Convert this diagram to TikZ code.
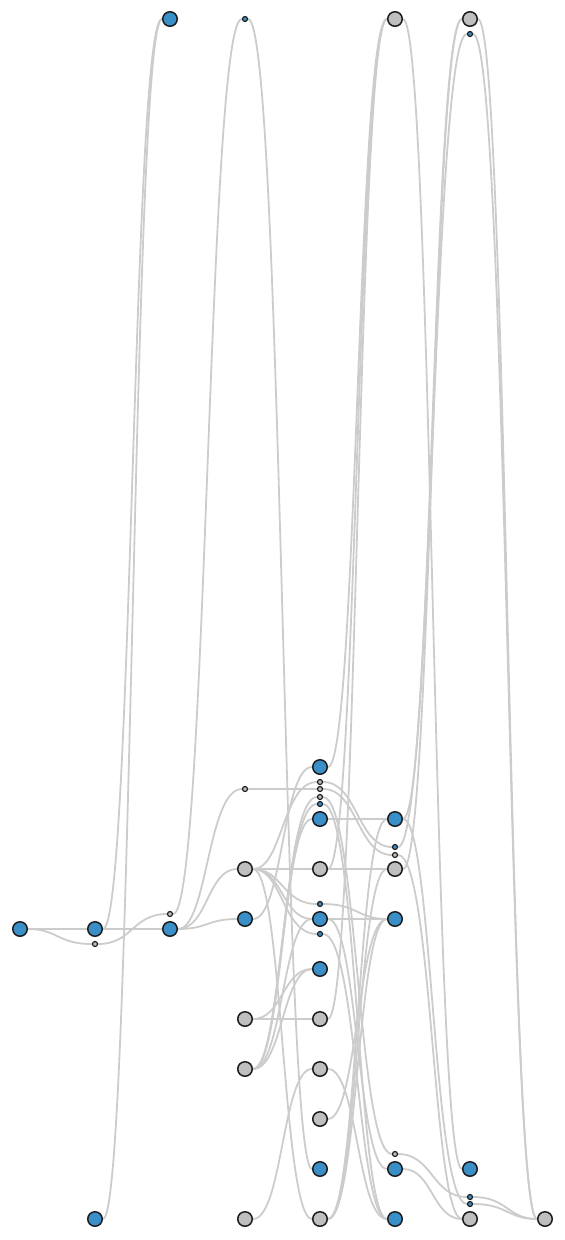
\documentclass[tikz,border=0pt]{standalone}
\usetikzlibrary{backgrounds}
\definecolor{nodeblue}{RGB}{58,143,201}
\definecolor{nodegray}{RGB}{191,191,191}
\definecolor{nodeline}{RGB}{30,30,30}
\definecolor{linkgray}{RGB}{204,204,204}
\tikzstyle{bigblue} = [
    circle, minimum size=14.5pt, inner sep=0pt,
    draw=nodeline, line width=1.5pt, fill=nodeblue
]
\tikzstyle{biggray} = [
    circle, minimum size=14.5pt, inner sep=0pt,
    draw=nodeline, line width=1.5pt, fill=nodegray
]
\tikzstyle{smallblue} = [
    circle, minimum size=5pt, inner sep=0pt,
    draw=nodeline, line width=1.2pt, fill=nodeblue
]
\tikzstyle{smallgray} = [
    circle, minimum size=5pt, inner sep=0pt,
    draw=nodeline, line width=1.2pt, fill=nodegray
]
\tikzstyle{link} = [
    draw=linkgray, line width=1.8pt,
    to path={.. controls +(37.5pt,0) and +(-37.5pt,0) .. (\tikztotarget)}
]

\begin{document}
\begin{tikzpicture}[node distance=50pt]
        \useasboundingbox (0,0) rectangle (565pt,-1240pt);
        % Draw nodes
        \node (n1) [bigblue] at (20pt,-929pt) {};

        \node (n2a) [bigblue, right of=n1, xshift=25pt] {};
        \node (n2d) [smallgray, below of=n2a, yshift=35pt] {};
        \node (n2b) [bigblue, below of=n2a, yshift=-240pt] {};

        \node (n3a) [bigblue, right of=n2a, xshift=25pt] {};
        \node (n3d) [smallgray, above of=n3a, yshift=-35pt] {};
        \node (n3t) [bigblue, above of=n3a, yshift=860pt] {};

        \node (n4b) [bigblue, right of=n3a, xshift=25pt, yshift=10pt] {};
        \node (n4a) [biggray, above of=n4b] {};
        \node (n4d2) [smallgray, above of=n4a, yshift=30pt] {};
        \node (n4d1) [smallblue, above of=n4a, yshift=800pt] {};
        \node (n4c) [biggray, below of=n4b, yshift=-50pt] {};
        \node (n4e) [biggray, below of=n4c] {};
        \node (n4f) [biggray, below of=n4e, yshift=-100pt] {};

        \node (n5e) [bigblue, right of=n4b, xshift=25pt] {};
        \node (n5c) [biggray, above of=n5e] {};
        \node (n5b) [bigblue, above of=n5c] {};
        \node (n5d4) [smallblue, above of=n5b, yshift=-35pt] {};
        \node (n5d3) [smallgray, above of=n5b, yshift=-28pt] {};
        \node (n5d2) [smallgray, above of=n5b, yshift=-20pt] {};
        \node (n5d1) [smallgray, above of=n5b, yshift=-13pt] {};
        \node (n5a) [bigblue, above of=n5b, yshift=2pt] {};
        \node (n5d5) [smallblue, above of=n5e, yshift=-35pt] {};
        \node (n5d6) [smallblue, below of=n5e, yshift=35pt] {};
        \node (n5f) [bigblue, below of=n5e] {};
        \node (n5g) [biggray, below of=n5f] {};
        \node (n5h) [biggray, below of=n5g] {};
        \node (n5i) [biggray, below of=n5h] {};
        \node (n5j) [bigblue, below of=n5i] {};
        \node (n5k) [biggray, below of=n5j] {};

        \node (n6c) [bigblue, right of=n5e, xshift=25pt] {};
        \node (n6b) [biggray, above of=n6c] {};
        \node (n6a) [bigblue, above of=n6b] {};
        \node (n6d1) [smallblue, above of=n6b, yshift=-28pt] {};
        \node (n6d2) [smallgray, above of=n6b, yshift=-36pt] {};
        \node (n6t) [biggray, above of=n6a, yshift=750pt] {};
        \node (n6d3) [smallgray, below of=n6c, yshift=-185pt] {};
        \node (n6e) [bigblue, below of=n6c, yshift=-200pt] {};
        \node (n6f) [bigblue, below of=n6e] {};

        \node (n7a) [bigblue, right of=n6e, xshift=25pt] {};
        \node (n7b) [biggray, below of=n7a] {};
        \node (n7d2) [smallblue, below of=n7a, yshift=22pt] {};
        \node (n7d3) [smallblue, below of=n7a, yshift=15pt] {};
        \node (n7t) [biggray, right of=n6t, xshift=25pt] {};
        \node (n7d1) [smallblue, below of=n7t, yshift=35pt] {};

        \node (n8) [biggray, right of=n7b, xshift=25pt] {};

        % Draw links
        \begin{scope}[on background layer]
        \draw [link] (n1) to (n2a);
        \draw [link] (n1) to (n2d);

        \draw [link] (n2a) to (n3t);
        \draw [link] (n2a) to (n3a);
        \draw [link] (n2d) to (n3d);
        \draw [link] (n2b) to (n3t);

        \draw [link] (n3d) to (n4d1);
        \draw [link] (n3a) to (n4d2);
        \draw [link] (n3a) to (n4a);
        \draw [link] (n3a) to (n4b);

        \draw [link] (n4d1) to (n5j);
        \draw [link] (n4d2) to (n5d2);
        \draw [link] (n4a) to (n5d1);
        \draw [link] (n4a) to (n5c);
        \draw [link] (n4a) to (n5d5);
        \draw [link] (n4a) to (n5e);
        \draw [link] (n4a) to (n5d6);
        \draw [link] (n4a) to (n5k);
        \draw [link] (n4b) to (n5a);
        \draw [link] (n4c) to (n5f);
        \draw [link] (n4c) to (n5g);
        \draw [link] (n4e) to (n5f);
        \draw [link] (n4e) to (n5e);
        \draw [link] (n4e) to (n5b);
        \draw [link] (n4e) to (n5d4);
        \draw [link] (n4e) to (n5d3);
        \draw [link] (n4f) to (n5h);

        \draw [link] (n5a) to (n6t);
        \draw [link] (n5c) to (n6t);
        \draw [link] (n5g) to (n6t);
        \draw [link] (n5b) to (n6a);
        \draw [link] (n5c) to (n6b);
        \draw [link] (n5e) to (n6c);
        \draw [link] (n5d1) to (n6d1);
        \draw [link] (n5d2) to (n6d2);
        \draw [link] (n5d3) to (n6d3);
        \draw [link] (n5d4) to (n6f);
        \draw [link] (n5d5) to (n6c);
        \draw [link] (n5d6) to (n6f);
        \draw [link] (n5e) to (n6e);
        \draw [link] (n5h) to (n6f);
        \draw [link] (n5i) to (n6c);
        \draw [link] (n5k) to (n6a);
        \draw [link] (n5k) to (n6b);
        \draw [link] (n5k) to (n6c);

        \draw [link] (n6t) to (n7a);
        \draw [link] (n6a) to (n7t);
        \draw [link] (n6b) to (n7t);
        \draw [link] (n6d1) to (n7d1);
        \draw [link] (n6a) to (n7d3);
        \draw [link] (n6d2) to (n7b);
        \draw [link] (n6d3) to (n7d2);
        \draw [link] (n6e) to (n7b);

        \draw [link] (n7t) to (n8);
        \draw [link] (n7d1) to (n8);
        \draw [link] (n7d2) to (n8);
        \draw [link] (n7d3) to (n8);
        \end{scope}
    \end{tikzpicture}
\end{document}
